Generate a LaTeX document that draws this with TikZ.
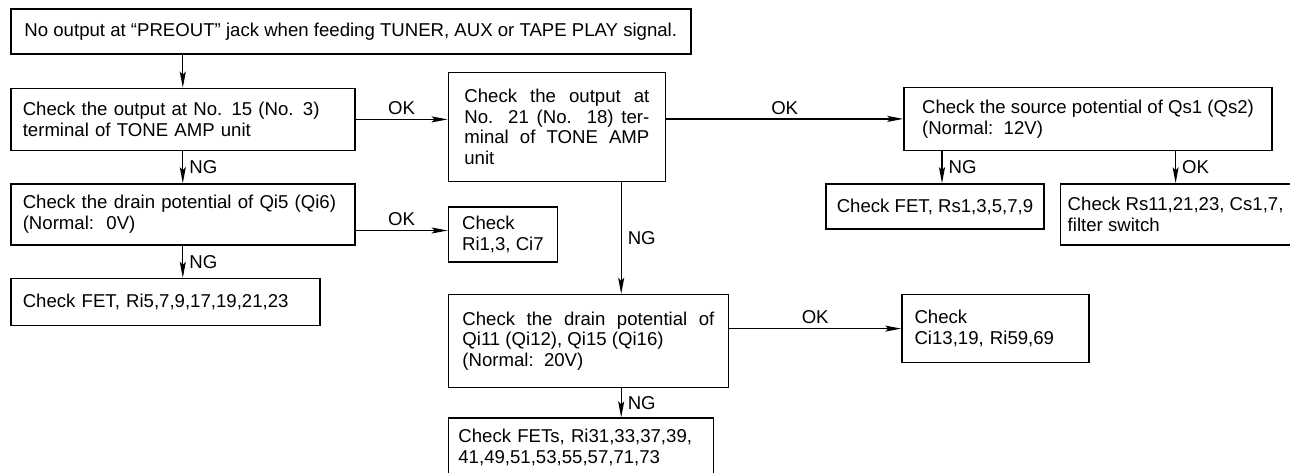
\documentclass[tikz,border=0pt]{standalone}
\usepackage{fontspec}
\setmainfont{Liberation Sans}
\usetikzlibrary{arrows.meta}
\usetikzlibrary{positioning}

\begin{document}
\begin{tikzpicture}[>={Stealth[length=8pt,width=3pt,inset=1.5pt]},
	box/.style={draw, line width=0.8pt, inner xsep=6pt, inner ysep=2pt, font=\fontsize{9.3pt}{10.4pt}\selectfont},
	link/.style={->, line width=0.6pt},
	ok/.style={above, inner sep=2pt, font=\fontsize{9.3pt}{10.4pt}\selectfont},
	ng/.style={right, inner xsep=3pt, inner ysep=0pt, font=\fontsize{9.3pt}{10.4pt}\selectfont}]
	\useasboundingbox (-5pt,4pt) rectangle (640pt,-232pt);
	\node[box, minimum width=340pt, minimum height=22.5pt, anchor=north west] (top) at (0,0) {No output at ``PREOUT'' jack when feeding TUNER, AUX or TAPE PLAY signal.};
	\node[box, text width=160pt, align=left, minimum height=31pt, below=16.5pt of top.south west, anchor=north west] (out15) {Check the output at No. 15 (No. 3)\\terminal of TONE AMP unit};
	\node[box, text width=160pt, align=left, minimum height=30.5pt, below=16pt of out15.south west, anchor=north west] (drain5) {Check the drain potential of Qi5 (Qi6)\\(Normal:~~0V)};
	\node[box, text width=142.5pt, align=left, minimum height=23.5pt, below=16pt of drain5.south west, anchor=north west] (fet5) {Check FET, Ri5,7,9,17,19,21,23};
	\node[box, text width=92.5pt, inner xsep=8pt, align=justify, minimum height=54.5pt, above right=8pt and 46pt of out15.north east, anchor=north west] (out21) {Check the output at\linebreak No. 21 (No. 18) ter-\linebreak minal of TONE AMP\linebreak unit};
	\node[box, align=left, inner xsep=5pt, minimum width=54.5pt, minimum height=27.5pt, below=12pt of out21.south west, anchor=north west] (ri1) {Check\\Ri1,3, Ci7};
	\node[box, text width=126pt, inner xsep=7pt, align=justify, minimum height=46.5pt, below=15.5pt of ri1.south west, anchor=north west] (drain11) {Check the drain potential of\linebreak Qi11 (Qi12), Qi15 (Qi16)\\(Normal:~~20V)};
	\node[box, text width=122.5pt, inner xsep=5pt, align=left, minimum height=29.5pt, below=14.5pt of drain11.south west, anchor=north west] (fets) {Check FETs, Ri31,33,37,39,\\41,49,51,53,55,57,71,73};
	\node[box, align=left, inner xsep=5pt, minimum width=184pt, minimum height=31.5pt, below right=7.5pt and 118.5pt of out21.north east, anchor=north west] (qs1) {Check the source potential of Qs1 (Qs2)\\(Normal:~~12V)};
	\node[box, text width=81pt, inner xsep=6.25pt, align=left, minimum height=34pt, right=86pt of drain11.north east, anchor=north west] (ci13) {Check\\Ci13,19, Ri59,69};
	\node[box, inner xsep=4pt, minimum width=109pt, minimum height=22.5pt, below left=16pt and 39pt of qs1.south west, anchor=north west] (fetrs) {Check FET, Rs1,3,5,7,9};
	\node[box, align=left, inner xsep=3pt, minimum width=115pt, minimum height=30.5pt, right=7.5pt of fetrs.north east, anchor=north west] (rs11) {Check Rs11,21,23, Cs1,7,\\filter switch};
	\coordinate (ngtap) at ([xshift=-22.5pt]out21.south east);
	\coordinate (riin) at ([yshift=2pt]ri1.west);
	\coordinate (fetin) at ([xshift=3.5pt]fetrs.north);
	\path[link]	(top.south -| out15.north) edge (out15.north)
			(out15.south) edge node[ng] {NG} (drain5.north)
			(drain5.south) edge node[ng] {NG} (drain5.south |- fet5.north)
			(out15.east) edge node[ok] {OK} (out15.east -| out21.west)
			(riin -| drain5.east) edge node[ok] {OK} (riin)
			(out21.east |- qs1.west) edge node[ok] {OK} (qs1.west)
			(ngtap) edge node[ng] {NG} (ngtap |- drain11.north)
			(drain11.south -| ngtap) edge node[ng] {NG} (fets.north -| ngtap)
			(drain11.east |- ci13.west) edge node[ok] {OK} (ci13.west)
			(fetin |- qs1.south) edge node[ng] {NG} (fetin)
			(qs1.south -| rs11.north) edge node[ng] {OK} (rs11.north);
\end{tikzpicture}
\end{document}
